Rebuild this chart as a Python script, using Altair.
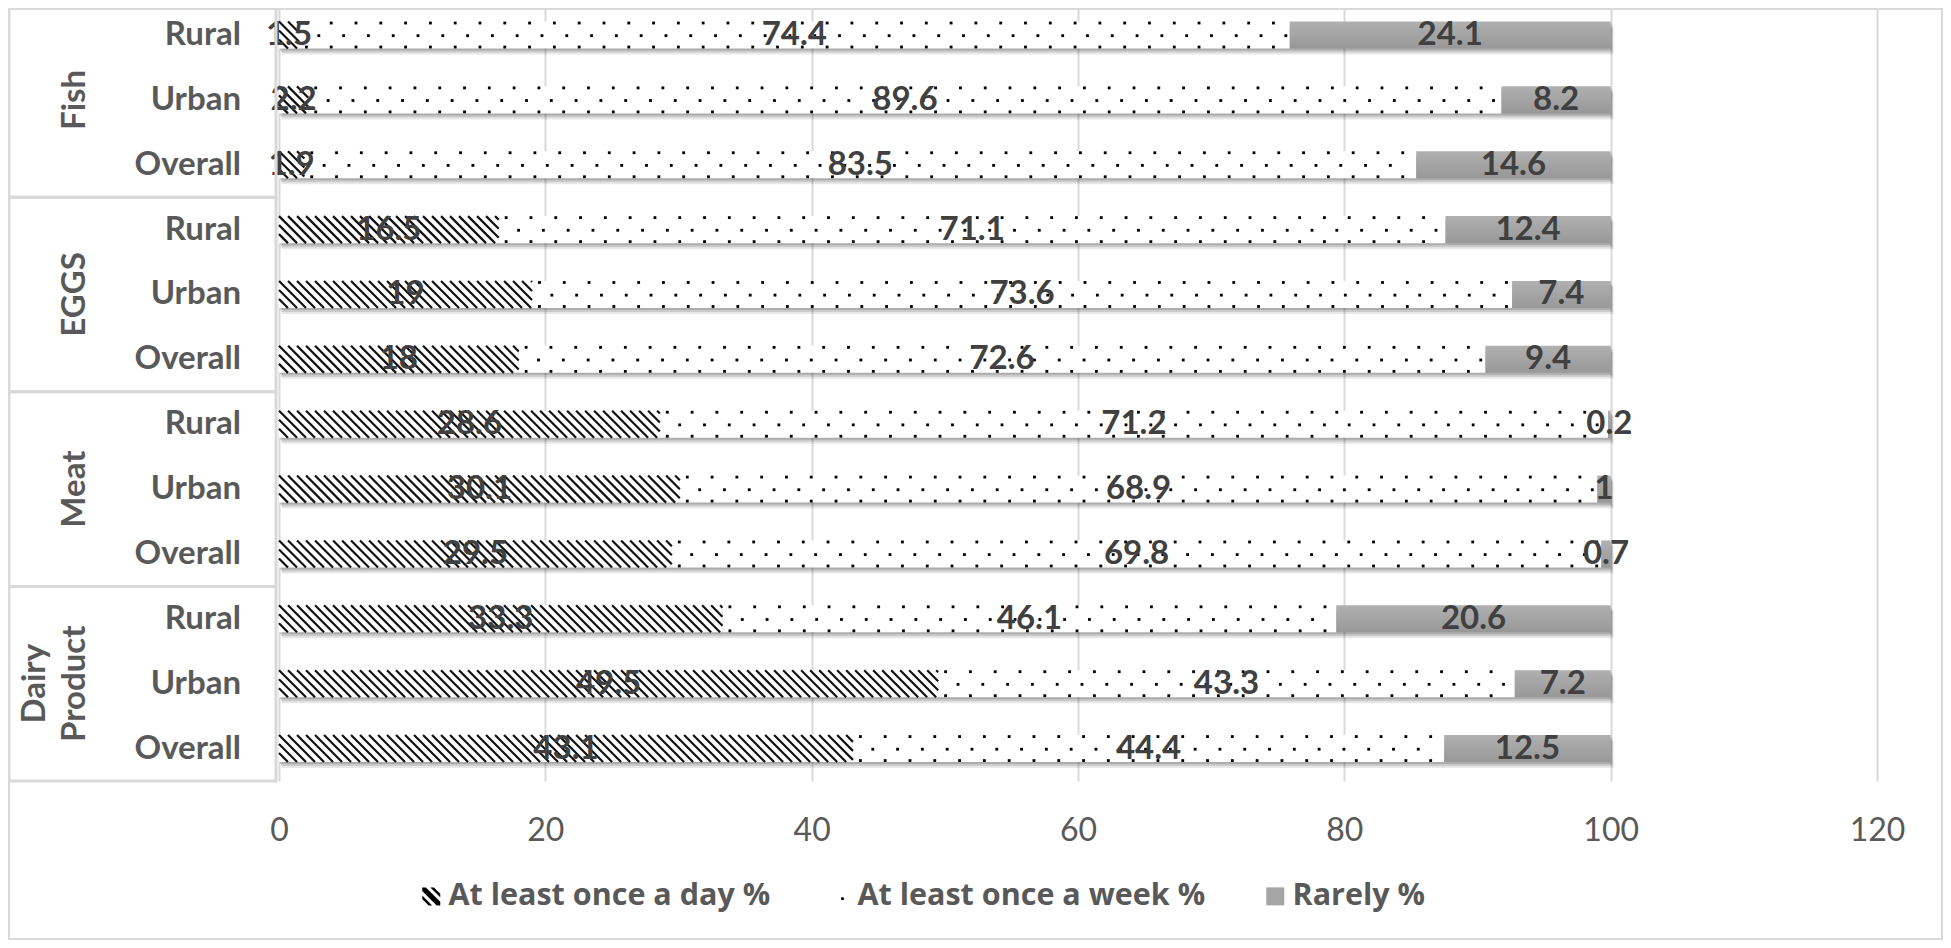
import altair as alt
import pandas as pd

# ---------------- data ----------------
groups = ["Fish", "EGGS", "Meat", "Dairy\nProduct"]
areas = ["Rural", "Urban", "Overall"]
categories = ["At least once a day %", "At least once a week %", "Rarely %"]
daily = [1.5, 2.2, 1.9, 16.5, 19, 18, 28.6, 30.1, 29.5, 33.3, 49.5, 43.1]
weekly = [74.4, 89.6, 83.5, 71.1, 73.6, 72.6, 71.2, 68.9, 69.8, 46.1, 43.3, 44.4]
rarely = [24.1, 8.2, 14.6, 12.4, 7.4, 9.4, 0.2, 1, 0.7, 20.6, 7.2, 12.5]
x_ticks = [0, 20, 40, 60, 80, 100, 120]

rows = []
for gi, g in enumerate(groups):
    for ai, a in enumerate(areas):
        rows.append({"row": gi * len(areas) + ai, "group": g, "area": a})
rows_df = pd.DataFrame(rows)

long_rows = []
for r in rows:
    i = r["row"]
    for ci, (cat, arr) in enumerate(zip(categories, [daily, weekly, rarely])):
        long_rows.append({"row": i, "cat": cat, "order": ci, "value": arr[i]})
df = pd.DataFrame(long_rows)

groups_df = pd.DataFrame({
    "group": groups,
    "first": [gi * len(areas) for gi in range(len(groups))],
    "last": [gi * len(areas) + len(areas) - 1 for gi in range(len(groups))],
})

# ---------------- style constants ----------------
HB = 0.2083      # half bar thickness (row units)
DX = 2.0275      # horizontal run of a 45deg hatch line across the bar (x units)
SP = 0.676       # hatch spacing (x units)
P = 1.862        # dot pattern period (x units)
DYD = 0.185      # dot rows offset from bar centre
FONT = "Lato"
GREY_TXT = "#595959"

xscale = alt.Scale(domain=[0, 120], nice=False, zero=False)
yscale = alt.Scale(domain=[-0.4165, 11.5], reverse=True, nice=False, zero=False)
xaxis = alt.Axis(values=x_ticks, grid=True, gridColor="#d9d9d9", gridWidth=2,
                 domain=False, ticks=False, labelFont=FONT, labelFontSize=32,
                 labelColor=GREY_TXT, labelPadding=34, title=None, labelFlush=False)


def X(f):
    return alt.X(f"{f}:Q", scale=xscale, axis=xaxis)


def Y(f):
    return alt.Y(f"{f}:Q", scale=yscale, axis=None)


base = (
    alt.Chart(df)
    .transform_stack(stack="value", groupby=["row"], as_=["x0", "x1"],
                     sort=[alt.SortField("order", order="ascending")])
    .transform_calculate(top=f"datum.row - {HB}", bot=f"datum.row + {HB}")
)

frame = alt.Chart(pd.DataFrame({"k": [0]})).mark_rect(
    fillOpacity=0, stroke="#d9d9d9", strokeWidth=2
).encode(x=alt.value(-270), x2=alt.value(1663), y=alt.value(1), y2=alt.value(931))

shadows = [
    base.mark_rect(color="black", opacity=op, xOffset=dx, x2Offset=dx,
                   yOffset=dy, y2Offset=dy).encode(
        x=X("x0"), x2="x1", y=Y("top"), y2="bot")
    for dx, dy, op in [(1, 2, 0.15), (2, 4, 0.12), (3, 6, 0.09)]
]

white_bars = base.transform_filter("datum.order < 2").mark_rect(color="white").encode(
    x=X("x0"), x2="x1", y=Y("top"), y2="bot")

grey_bars = base.transform_filter("datum.order == 2").mark_rect(
    color=alt.LinearGradient(gradient="linear", x1=0, y1=0, x2=0, y2=1,
                             stops=[alt.GradientStop(offset=0, color="#b0b0b0"),
                                    alt.GradientStop(offset=1, color="#989898")])
).encode(x=X("x0"), x2="x1", y=Y("top"), y2="bot")

hatch = (
    base.transform_filter("datum.order == 0")
    .transform_calculate(seq=f"sequence(datum.x0 - {DX}, datum.x1, {SP})")
    .transform_flatten(["seq"], as_=["hx"])
    .transform_calculate(t1=f"max(0, (datum.x0 - datum.hx) / {DX})",
                         t2=f"min(1, (datum.x1 - datum.hx) / {DX})")
    .transform_filter("datum.t2 > datum.t1")
    .transform_calculate(hx1=f"datum.hx + datum.t1 * {DX}",
                         hx2=f"datum.hx + datum.t2 * {DX}",
                         hy1=f"datum.top + datum.t1 * {2 * HB}",
                         hy2=f"datum.top + datum.t2 * {2 * HB}")
    .mark_rule(color="#111111", strokeWidth=2.2)
    .encode(x=X("hx1"), x2="hx2", y=Y("hy1"), y2="hy2")
)

week = base.transform_filter("datum.order == 1")
dots_a = (week.transform_calculate(sa=f"sequence(datum.x0 + {P * 0.3}, datum.x1 - 0.1, {P})")
          .transform_flatten(["sa"], as_=["dx"]))
dots_b = (week.transform_calculate(sb=f"sequence(datum.x0 + {P * 0.8}, datum.x1 - 0.1, {P})")
          .transform_flatten(["sb"], as_=["dx"]))
dot_layers = [
    dots_a.transform_calculate(dy=f"datum.row - {DYD}").mark_square(size=8, color="black", opacity=1)
    .encode(x=X("dx"), y=Y("dy")),
    dots_a.transform_calculate(dy=f"datum.row + {DYD}").mark_square(size=8, color="black", opacity=1)
    .encode(x=X("dx"), y=Y("dy")),
    dots_b.transform_calculate(dy="datum.row + 0.01").mark_square(size=8, color="black", opacity=1)
    .encode(x=X("dx"), y=Y("dy")),
]

labels = (
    base.transform_calculate(mid="(datum.x0 + datum.x1) / 2", lab="'' + datum.value")
    .mark_text(font=FONT, fontWeight="bold", fontSize=33, color="#404040",
               align="center", baseline="middle")
    .encode(x=X("mid"), y=Y("row"), text="lab:N")
)

group_boxes = (
    alt.Chart(groups_df)
    .transform_calculate(y1="datum.first - 0.5", y2="datum.last + 0.5")
    .mark_rect(fillOpacity=0, stroke="#d9d9d9", strokeWidth=3)
    .encode(x=alt.value(-270), x2=alt.value(-3), y=Y("y1"), y2="y2")
)

group_text = (
    alt.Chart(groups_df)
    .transform_calculate(mid="(datum.first + datum.last) / 2",
                         lines="split(datum.group, '\\n')")
    .transform_calculate(last_line="peek(datum.lines)",
                         prev_line="length(datum.lines) > 1 ? datum.lines[0] : ''")
)
text_style = dict(font=FONT, fontWeight="bold", fontSize=33, color=GREY_TXT, angle=270,
                  align="center", baseline="bottom")
group_labels_last = group_text.mark_text(**text_style).encode(
    x=alt.value(-187), y=Y("mid"), text="last_line:N")
group_labels_prev = group_text.mark_text(**text_style).encode(
    x=alt.value(-227), y=Y("mid"), text="prev_line:N")

sub_labels = (
    alt.Chart(rows_df)
    .mark_text(font=FONT, fontWeight="bold", fontSize=33, color=GREY_TXT,
               align="right", baseline="middle")
    .encode(x=alt.value(-38), y=Y("row"), text="area:N")
)

hatch_path = ("M-1,-1L-0.6,-1L1,0.6L1,1L0.6,1L-1,-0.6Z"
              "M-0.1,-1L0.3,-1L1,-0.3L1,0.1Z"
              "M-1,-0.1L-1,0.3L-0.3,1L0.1,1Z")
dot_path = "M0.1,0.1L0.4,0.1L0.4,0.4L0.1,0.4Z"

legend = alt.Legend(title=None, orient="none", legendX=137, legendY=873,
                    direction="horizontal", symbolSize=324, symbolStrokeWidth=0,
                    labelFont="Open Sans", labelFontWeight="bold", labelFontSize=30.5,
                    labelColor=GREY_TXT, labelLimit=600, labelOffset=2,
                    columnPadding=54, padding=0, symbolOpacity=1)

legend_carrier = alt.Chart(df).mark_point(filled=True, clip=True, opacity=1).encode(
    x=alt.value(-2000), y=alt.value(-2000),
    color=alt.Color("cat:N", scale=alt.Scale(domain=categories,
                                             range=["#000000", "#000000", "#a5a5a5"]),
                    legend=legend),
    shape=alt.Shape("cat:N", scale=alt.Scale(domain=categories,
                                             range=[hatch_path, dot_path, "square"]),
                    legend=legend),
)

chart = alt.layer(
    frame, *shadows, white_bars, grey_bars, hatch, *dot_layers, labels,
    group_boxes, group_labels_last, group_labels_prev, sub_labels, legend_carrier
).properties(
    width=1598, height=773,
    padding={"left": 271, "top": 0, "right": 66, "bottom": 159},
    autosize=alt.AutoSizeParams(type="none"),
    background="white",
).configure_view(strokeWidth=0)

chart.save("out.html", embed_options={"renderer": "svg", "actions": False})
